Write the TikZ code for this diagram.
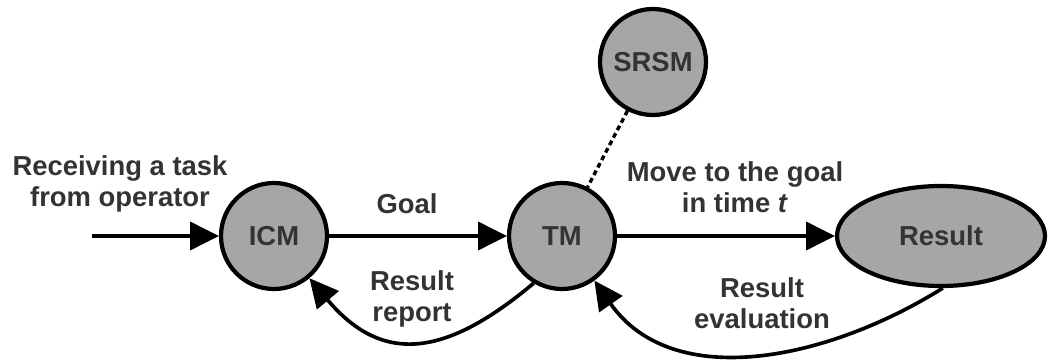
\documentclass[tikz,border=0pt]{standalone}
\usepackage{fontspec}
\setmainfont{Liberation Sans}
\usetikzlibrary{arrows.meta,shapes.geometric}
\begin{document}
\begin{tikzpicture}[
  font=\bfseries\fontsize{19.5}{22}\selectfont,
  module/.style={circle,draw,line width=3pt,fill=black!35,
    minimum size=2.65cm,inner sep=0pt,text=black!80},
  flow/.style={-{Triangle[length=0.72cm,width=0.7cm]},line width=2.6pt},
  lbl/.style={align=center,text=black!80}]
\useasboundingbox (0,0) rectangle (26.2,9);

% Modules on one line, SRSM above the task module.
\node[module] (icm) at (6.85,3.1) {ICM};
\node[module] (tm) at (14.05,3.1) {TM};
\node[module] (srsm) at (16.325,7.45) {SRSM};
\node[module,ellipse,minimum width=5.2cm,minimum height=2.5cm] (res)
  at (23.525,3.1) {Result};
\coordinate (start) at (2.3,3.1);

% Forward flow.
\draw[flow] (start) -- (icm);
\draw[flow] (icm) -- (tm);
\draw[flow] (tm) -- (res);
\draw[line width=2.4pt,dash pattern=on 3.5pt off 2.5pt] (srsm) -- (tm);

% Feedback loops below.
\draw[flow] (tm.239) to[out=220,in=-50,looseness=1.3] (icm.-50);
\draw[flow] (res.272) to[out=212,in=-55] (tm.-54);

\node[lbl] (task) at (3.0,4.4) {Receiving a task\\from operator};
\node[lbl] (goal) at (10.175,3.9) {Goal};
\node[lbl] (move) at (18.375,4.325) {Move to the goal\\in time \textit{t}};
\node[lbl] (report) at (10.3,1.525) {Result\\report};
\node[lbl] (eval) at (19.05,1.425) {Result\\evaluation};
\end{tikzpicture}
\end{document}
